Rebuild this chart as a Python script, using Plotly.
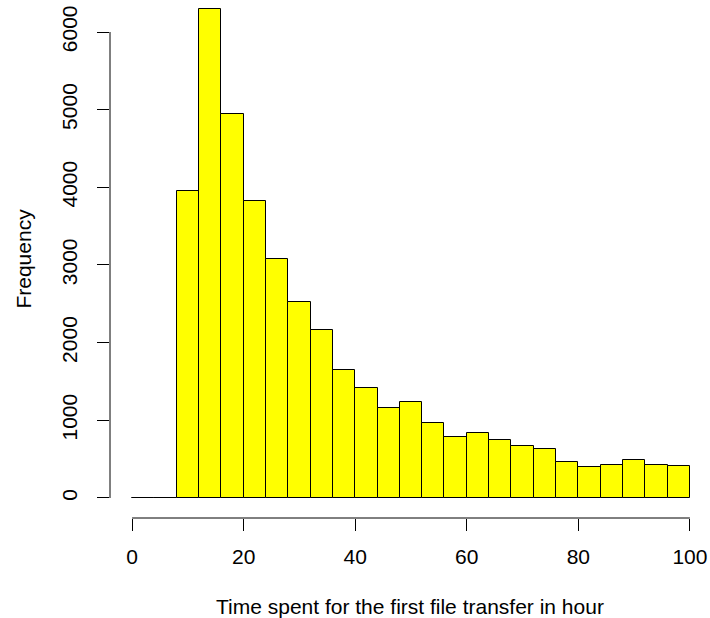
import plotly.graph_objects as go

bin_start = [0, 4, 8, 12, 16, 20, 24, 28, 32, 36, 40, 44, 48, 52, 56, 60,
             64, 68, 72, 76, 80, 84, 88, 92, 96]
bin_width = 4
counts = [0, 0, 3950, 6300, 4950, 3820, 3080, 2525, 2165, 1645, 1420, 1165,
          1240, 960, 780, 842, 745, 675, 625, 465, 405, 422, 485, 430, 408]
x_ticks = [0, 20, 40, 60, 80, 100]
y_ticks = [0, 1000, 2000, 3000, 4000, 5000, 6000]

font = "Liberation Sans, Arial, sans-serif"
FS = 21
W, H = 710, 618

fig = go.Figure()
fig.add_trace(go.Bar(
    x=[s + bin_width / 2 for s in bin_start],
    y=counts,
    width=[bin_width] * len(bin_start),
    marker=dict(color="#FFFF00", line=dict(color="#000000", width=1)),
    hoverinfo="x+y",
))

fig.update_layout(
    width=W, height=H,
    margin=dict(l=109.5, r=0, t=0, b=100.3),
    plot_bgcolor="white", paper_bgcolor="white",
    showlegend=False,
    font=dict(family=font, size=FS, color="#000000"),
    bargap=0,
    xaxis=dict(
        range=[-3.96, 103.6], tickvals=x_ticks, ticktext=[str(v) for v in x_ticks],
        ticks="outside", ticklen=12, tickwidth=1, tickcolor="#000000",
        showgrid=False, zeroline=False, showline=False,
        ticklabelstandoff=8, tickfont=dict(size=FS),
    ),
    yaxis=dict(
        range=[-257.7, 6412], tickvals=y_ticks, ticktext=[str(v) for v in y_ticks],
        ticks="outside", ticklen=12, tickwidth=1, tickcolor="#000000",
        showgrid=False, zeroline=False, showline=False,
        tickangle=-90, ticklabelstandoff=12, tickfont=dict(size=FS),
    ),
)

# R-style detached axis lines spanning the tick range
fig.add_shape(type="line", xref="x", yref="paper",
              x0=min(x_ticks), x1=max(x_ticks), y0=0, y1=0,
              line=dict(color="#000000", width=1))
fig.add_shape(type="line", xref="paper", yref="y",
              x0=0, x1=0, y0=min(y_ticks), y1=max(y_ticks),
              line=dict(color="#000000", width=1))

fig.add_annotation(text="Time spent for the first file transfer in hour",
                   xref="paper", yref="paper", x=0.5, y=-(606 - 517.7) / 517.7,
                   yanchor="middle", xanchor="center", showarrow=False,
                   font=dict(size=FS))
fig.add_annotation(text="Frequency", xref="paper", yref="paper",
                   x=-(109.5 - 22) / (W - 109.5), y=0.5, textangle=-90,
                   xanchor="center", yanchor="middle", showarrow=False,
                   font=dict(size=FS))

fig.write_html("out.html", config={"displayModeBar": False},
               post_script="document.body.style.margin='0';document.body.style.overflow='hidden';")
